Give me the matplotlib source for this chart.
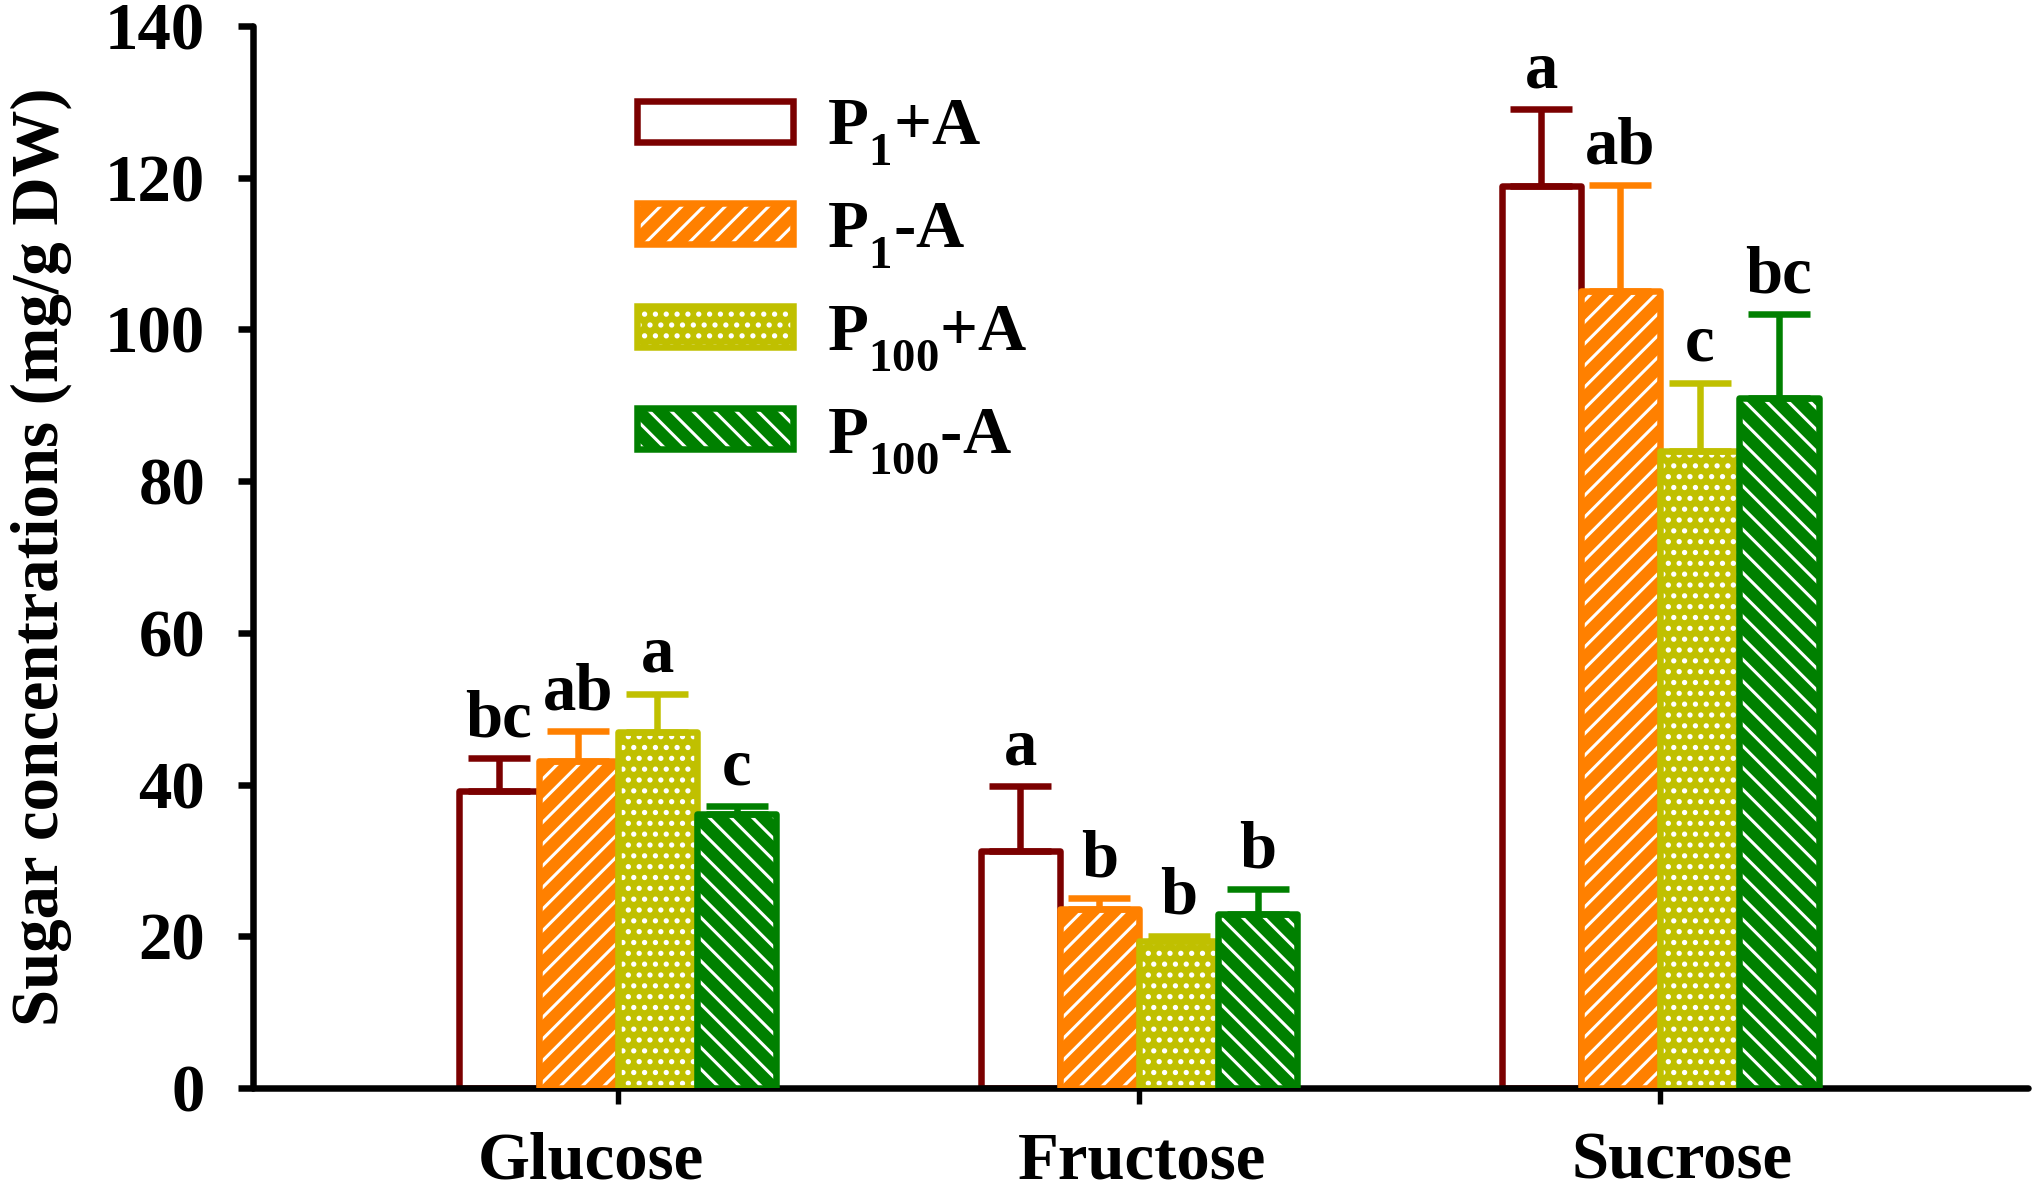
import numpy as np
import matplotlib
matplotlib.use("Agg")
import matplotlib.pyplot as plt
from matplotlib.patches import Patch
from matplotlib.transforms import ScaledTranslation
from matplotlib.legend_handler import HandlerTuple
import matplotlib._mathtext as _mt

# deeper subscripts, as in the reference legend
_mt.FontConstantsBase.sub1 = 0.69

plt.rcParams['font.family'] = ['Liberation Serif', 'DejaVu Serif']
plt.rcParams['font.weight'] = 'bold'
plt.rcParams['mathtext.fontset'] = 'custom'
plt.rcParams['mathtext.rm'] = 'Liberation Serif:bold'
plt.rcParams['mathtext.bf'] = 'Liberation Serif:bold'
plt.rcParams['mathtext.it'] = 'Liberation Serif:bold'
plt.rcParams['mathtext.default'] = 'bf'
plt.rcParams['hatch.linewidth'] = 1.7

# ---------------- data ----------------
categories = ['Glucose', 'Fructose', 'Sucrose']
series_names = ['P$_{1}$+A', 'P$_{1}$-A', 'P$_{100}$+A', 'P$_{100}$-A']

p1_plus_a = [39.1, 31.3, 118.9]
p1_plus_a_err = [4.4, 8.5, 10.1]
p1_plus_a_letters = ['bc', 'a', 'a']

p1_minus_a = [43.1, 23.6, 105.1]
p1_minus_a_err = [4.0, 1.4, 13.9]
p1_minus_a_letters = ['ab', 'b', 'ab']

p100_plus_a = [46.9, 19.4, 84.0]
p100_plus_a_err = [5.1, 0.7, 9.0]
p100_plus_a_letters = ['a', 'b', 'c']

p100_minus_a = [36.1, 23.0, 90.9]
p100_minus_a_err = [1.1, 3.2, 11.1]
p100_minus_a_letters = ['c', 'b', 'bc']

y_ticks = [0, 20, 40, 60, 80, 100, 120, 140]

values = [p1_plus_a, p1_minus_a, p100_plus_a, p100_minus_a]
errors = [p1_plus_a_err, p1_minus_a_err, p100_plus_a_err, p100_minus_a_err]
letters = [p1_plus_a_letters, p1_minus_a_letters, p100_plus_a_letters, p100_minus_a_letters]

# ---------------- styles ----------------
colors = ['#7B0000', '#FF8000', '#C0C000', '#008000']
fills = ['white', '#FF8000', '#C0C000', '#008000']
hatches = [None, '//', '..', '\\\\']
label_shift_px = [-27, 3, 22]   # horizontal nudge of category labels (pixels)

W, H, DPI = 2038, 1190, 130
fig = plt.figure(figsize=(W / DPI, H / DPI), dpi=DPI)
ax = fig.add_axes([253 / W, 1 - 1088 / H, (2028 - 253) / W, (1088 - 26) / H])

x = np.arange(len(categories))
bw = 0.152
offsets = (np.arange(4) - 1.5) * bw
lw = 3.6
fs = 37

handles = []
for i in range(4):
    xs = x + offsets[i]
    ax.bar(xs, values[i], bw, color=fills[i], edgecolor='white',
           hatch=hatches[i], linewidth=0, zorder=2 + i)
    edge = ax.bar(xs, values[i], bw, fill=False, edgecolor=colors[i],
                  linewidth=lw, zorder=2 + i)
    for p in edge:
        p.set_joinstyle('round')
    ax.errorbar(xs, values[i], yerr=[np.zeros(3), errors[i]], fmt='none',
                ecolor=colors[i], elinewidth=lw, capsize=17, capthick=lw,
                zorder=2 + i)
    for xx, v, e, t in zip(xs, values[i], errors[i], letters[i]):
        ax.annotate(t, (xx, v + e), xytext=(0, 12), textcoords='offset points',
                    ha='center', va='baseline', fontsize=fs, fontweight='bold',
                    zorder=10)
    h_fill = Patch(facecolor=fills[i], edgecolor='white', hatch=hatches[i], linewidth=0)
    h_edge = Patch(facecolor='none', edgecolor=colors[i], linewidth=lw, joinstyle='round')
    handles.append((h_fill, h_edge))

ax.set_xlim(-0.70, 2.706)
ax.set_ylim(0, 140)
ax.set_yticks(y_ticks)
ax.set_xticks(x)
ax.set_xticklabels(categories)
ax.set_ylabel('Sugar concentrations (mg/g DW)', fontsize=fs, fontweight='bold', labelpad=18)

for s in ['top', 'right']:
    ax.spines[s].set_visible(False)
for s in ['left', 'bottom']:
    ax.spines[s].set_linewidth(3.6)
    ax.spines[s].set_capstyle('round')
ax.tick_params(axis='y', direction='out', length=8.5, width=3.6, labelsize=fs, pad=18)
ax.tick_params(axis='x', direction='out', length=9, width=3.0, labelsize=fs, pad=15)
for lab in ax.get_xticklabels() + ax.get_yticklabels():
    lab.set_fontweight('bold')
for lab, dx in zip(ax.get_xticklabels(), label_shift_px):
    lab.set_transform(lab.get_transform() + ScaledTranslation(dx / DPI, 0, fig.dpi_scale_trans))

leg = ax.legend(handles, series_names, loc='upper left',
                bbox_to_anchor=(637 / W, 1 - 98 / H), bbox_transform=fig.transFigure,
                frameon=False, fontsize=fs, handlelength=2.33, handleheight=0.56,
                handletextpad=0.52, labelspacing=0.48, borderpad=0, borderaxespad=0,
                handler_map={tuple: HandlerTuple(ndivide=1)})

fig.savefig('out.png', dpi=DPI)
